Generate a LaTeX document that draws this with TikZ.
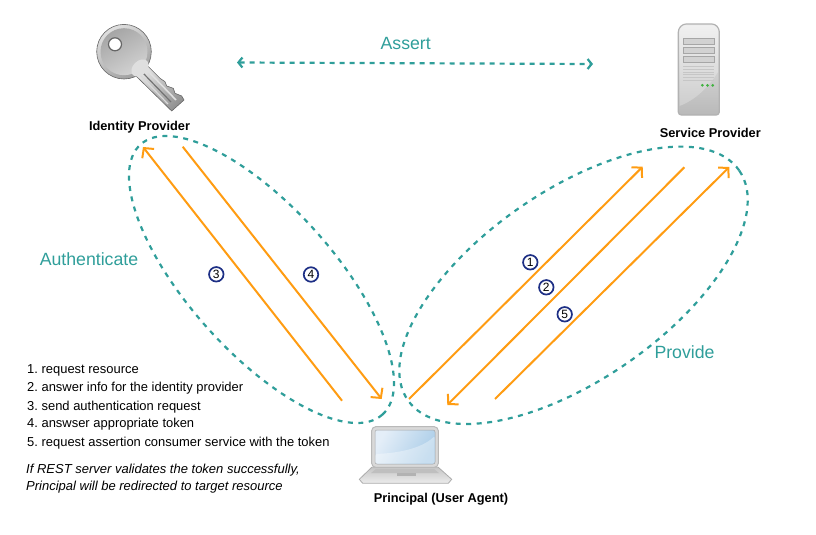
\documentclass[tikz,border=0pt]{standalone}
\usepackage{fontspec}
\setmainfont{Liberation Sans}
\usetikzlibrary{arrows.meta,shapes.geometric}
\definecolor{zoneteal}{HTML}{2F9E9A}
\definecolor{flowamber}{HTML}{FF9C12}
\definecolor{stepnavy}{HTML}{1D2F85}
\definecolor{screenblue}{HTML}{ABCDE8}
\definecolor{screenpale}{HTML}{E4EEF8}
\tikzset{
	zone/.style = {draw=zoneteal, line width=2.2pt, dash pattern=on 5pt off 5.5pt, ellipse, inner sep=0pt, outer sep=0pt},
	flow/.style = {draw=flowamber, line width=2pt, -{Straight Barb[length=7pt,width=15pt,line width=2pt]}},
	stepmark/.style = {draw=stepnavy, fill=white, line width=1.7pt, circle, inner sep=0pt, minimum size=14.5pt, font=\fontsize{12}{12}\selectfont},
	actor/.style = {font=\fontsize{12.8}{14}\selectfont\bfseries, anchor=base},
	verb/.style = {text=zoneteal, font=\fontsize{17.7}{20}\selectfont, anchor=base},
	listline/.style = {font=\fontsize{12.95}{14}\selectfont\frenchspacing, anchor=base west, inner sep=0pt},
	noteline/.style = {font=\fontsize{13}{14}\selectfont\itshape, anchor=base west, inner sep=0pt}
}
\begin{document}
\begin{tikzpicture}[x=1pt,y=-1pt]
	\useasboundingbox (0,0) rectangle (816,535);
	% key
		\shade[top color=gray!20, bottom color=gray!85, shading angle=45, draw=gray!80!black, line width=.6pt]
			(145,63.3) -- (160,78.3) -- (165,81.7) -- (166.7,86) -- (173.3,88.3) -- (175,93.3) -- (181.7,96) -- (184,100) -- (171.7,111) -- (135,75) -- cycle;
		\draw[gray!25, line width=1.6pt] (147,70) -- (176,100);
		\draw[gray!90!black, line width=1.2pt] (143,73) -- (171,102);
		\draw[gray!30, line width=1.2pt] (139,74) -- (168,104);
		\shade[left color=gray!25, right color=gray!75, shading angle=30, draw=gray!80!black, line width=.6pt] (124,51.7) circle (27.3);
		\shade[left color=gray!70, right color=gray!35, shading angle=30] (124,51.7) circle (23.5);
		\fill[gray!25, rotate around={45:(140,68)}] (140,68) ellipse (10 and 7);
		\fill[white, draw=gray!80!black, line width=1.2pt] (115,44.3) circle (6.5);
	% server
		\shade[top color=gray!15, bottom color=gray!55, draw=gray!60, line width=1.2pt, rounded corners=3pt]
			(678.3,115) -- (678.3,29) -- (683,24) -- (715,24) -- (719.3,29) -- (719.3,115) -- cycle;
		\fill[white, opacity=.25] (679.5,106) .. controls (695,100) and (708,88) .. (718,72) -- (718,29) -- (714,25.5) -- (684,25.5) -- (679.5,29) -- cycle;
		\foreach \bayy in {38.3,47.7,56.7}
			\draw[gray!70, fill=gray!35, line width=.7pt] (683.3,\bayy) rectangle (714.3,\bayy+5.6);
		\foreach \venty in {66.7,69.3,72,74.7,77.3,80}
			\draw[gray!45, line width=.8pt] (683.3,\venty) -- (714.3,\venty);
		\foreach \ledx in {702.3,707.5,712.7}
			\fill[green!60!black!75] (\ledx,85.3) circle (1.5);
	% laptop
		\shade[top color=gray!45, bottom color=gray!15, draw=gray!65, line width=.8pt]
			(371.7,467.3) -- (438.3,467.3) -- (451.7,479.3) -- (448.3,483.3) -- (362.7,483.3) -- (359.3,479.3) -- cycle;
		\fill[gray!50] (376,469) -- (434,469) -- (439,473) -- (371,473) -- cycle;
		\fill[gray!60] (397,473.3) rectangle (416,475.7);
		\fill[gray!30, draw=gray!55, line width=1pt, rounded corners=4pt] (371.7,426.7) rectangle (438.3,467.3);
		\shade[left color=screenpale, right color=screenblue, shading angle=60, rounded corners=2pt, draw=gray!70, line width=.5pt] (375,430) rectangle (435,464);
		\fill[white, opacity=.35, rounded corners=2pt] (375.3,454) .. controls (400,453) and (422,448) .. (434.7,436) -- (434.7,463.7) -- (375.3,463.7) -- cycle;

		\node[zone, rotate=-48.15, minimum width=362.6pt, minimum height=145.2pt] (authzone) at (261.5,279.5) {};
		\node[zone, rotate=34.75, minimum width=403.2pt, minimum height=189pt] (providezone) at (573.5,285.3) {};

		\coordinate (assertleft) at (237,62.5);
		\coordinate (assertright) at (593,64);
		\draw[draw=zoneteal, line width=2.2pt, dash pattern=on 5pt off 5pt, {Straight Barb[length=4pt,width=10pt]}-{Straight Barb[length=4pt,width=10pt]}] (assertleft) -- (assertright);

		\coordinate (threefrom) at (342,400.7);
		\coordinate (threeto) at (143,147);
		\coordinate (fourfrom) at (182.7,146.7);
		\coordinate (fourto) at (381.7,399);
		\coordinate (onefrom) at (409,399);
		\coordinate (oneto) at (642.7,166.7);
		\coordinate (twofrom) at (684.3,167.3);
		\coordinate (twoto) at (447.3,405);
		\coordinate (fivefrom) at (495,399);
		\coordinate (fiveto) at (729.3,167);
		\draw[flow] (threefrom) -- (threeto);
		\draw[flow] (fourfrom) -- (fourto);
		\draw[flow] (onefrom) -- (oneto);
		\draw[flow] (twofrom) -- (twoto);
		\draw[flow] (fivefrom) -- (fiveto);

		\node[stepmark] (markone) at (530.3,262.3) {1};
		\node[stepmark] (marktwo) at (546.3,287.3) {2};
		\node[stepmark] (markthree) at (216.3,274.3) {3};
		\node[stepmark] (markfour) at (311,274.5) {4};
		\node[stepmark] (markfive) at (564.7,314.3) {5};

		\node[actor] (identity) at (139.5,130.5) {Identity Provider};
		\node[actor] (service) at (710.3,137.5) {Service Provider};
		\node[actor] (principal) at (441,502.5) {Principal (User Agent)};

		\node[verb] (assert) at (405.7,49) {Assert};
		\node[verb] (authenticate) at (89,265) {Authenticate};
		\node[verb] (provide) at (684.5,358) {Provide};

		\node[listline] (lineone) at (27,373) {1. request resource};
		\node[listline] (linetwo) at (27,391) {2. answer info for the identity provider};
		\node[listline] (linethree) at (27,410) {3. send authentication request};
		\node[listline] (linefour) at (27,427.5) {4. answser appropriate token};
		\node[listline] (linefive) at (27,446) {5. request assertion consumer service with the token};
		\node[noteline] (noteone) at (26,473.5) {If REST server validates the token successfully,};
		\node[noteline] (notetwo) at (26,490) {Principal will be redirected to target resource};
	\end{tikzpicture}
\end{document}
